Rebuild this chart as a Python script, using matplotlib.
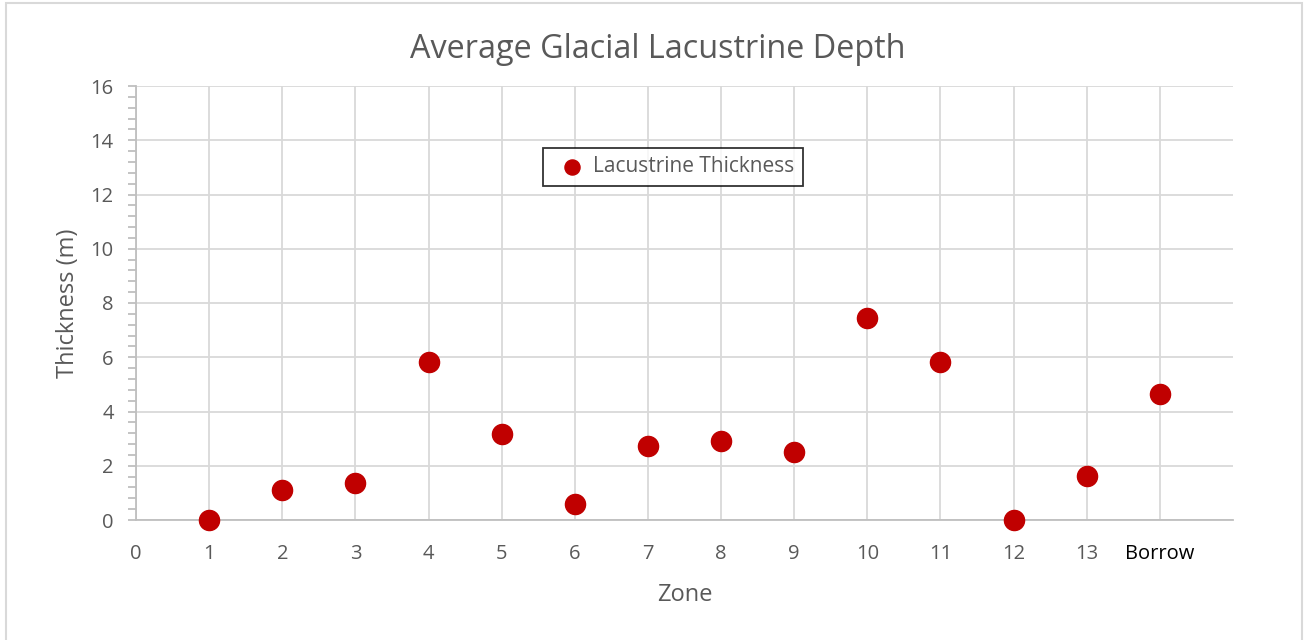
import matplotlib
matplotlib.use("Agg")
import matplotlib.pyplot as plt
from matplotlib.patches import Rectangle
from matplotlib.ticker import MultipleLocator

zones = [1, 2, 3, 4, 5, 6, 7, 8, 9, 10, 11, 12, 13, 14]
thickness = [0.0, 1.1, 1.37, 5.83, 3.17, 0.59, 2.73, 2.92, 2.51, 7.45, 5.83, 0.0, 1.62, 4.65]
x_ticks = list(range(0, 15))
x_labels = [str(i) for i in range(0, 14)] + ["Borrow"]

plt.rcParams["font.family"] = ["Open Sans", "DejaVu Sans"]
grey_text = "#595959"
grid_col = "#d9d9d9"

fig = plt.figure(figsize=(13.04, 6.4), dpi=100)
fig.patches.append(Rectangle((6 / 1304, -0.01), 1296 / 1304, 1 - 3 / 640 + 0.01,
                             transform=fig.transFigure, fill=False,
                             edgecolor="#d9d9d9", linewidth=1.5))

ax = fig.add_axes([136 / 1304, 1 - 520 / 640, (1233 - 136) / 1304, (520 - 86) / 640])
ax.scatter(zones, thickness, s=210, color="#c00000", zorder=3,
           label="Lacustrine Thickness", clip_on=False)

ax.set_xlim(0, 15)
ax.set_ylim(0, 16)
ax.set_xticks(x_ticks)
ax.set_xticklabels(x_labels)
ax.set_yticks(range(0, 17, 2))
ax.yaxis.set_minor_locator(MultipleLocator(0.4))

ax.grid(True, which="major", color=grid_col, linewidth=1.3, zorder=0)
ax.set_axisbelow(True)
for side in ["top", "right"]:
    ax.spines[side].set_visible(False)
ax.spines["left"].set_color("#bfbfbf")
ax.spines["bottom"].set_color("#bfbfbf")
ax.spines["left"].set_linewidth(1.3)
ax.spines["bottom"].set_linewidth(1.3)

ax.tick_params(axis="x", length=0, pad=17, labelsize=14.5, labelcolor=grey_text)
ax.tick_params(axis="y", which="major", length=6, width=1.3, color="#bfbfbf",
               pad=10, labelsize=14.5, labelcolor=grey_text)
ax.tick_params(axis="y", which="minor", length=6, width=1.3, color="#bfbfbf")
for lbl in ax.get_xticklabels():
    if lbl.get_text() == "Borrow":
        lbl.set_color("black")

ax.set_xlabel("Zone", fontsize=17, color=grey_text, labelpad=14)
ax.set_ylabel("Thickness (m)", fontsize=17, color=grey_text, labelpad=8)
fig.text(0.5046, 1 - 50 / 640, "Average Glacial Lacustrine Depth", ha="center",
         va="center", fontsize=23.3, color=grey_text)

leg = ax.legend(loc="center", bbox_to_anchor=((673 - 136) / 1097, (520 - 167) / 434),
                fontsize=15, frameon=True, fancybox=False, handletextpad=0.0,
                borderpad=0.4, borderaxespad=0, markerscale=0.75,
                labelcolor=grey_text)
leg.get_frame().set_edgecolor("black")
leg.get_frame().set_linewidth(1.3)
leg._legend_box.sep = 0
leg.get_frame().set_boxstyle("square", pad=0.0)

fig.savefig("out.png", dpi=100)
